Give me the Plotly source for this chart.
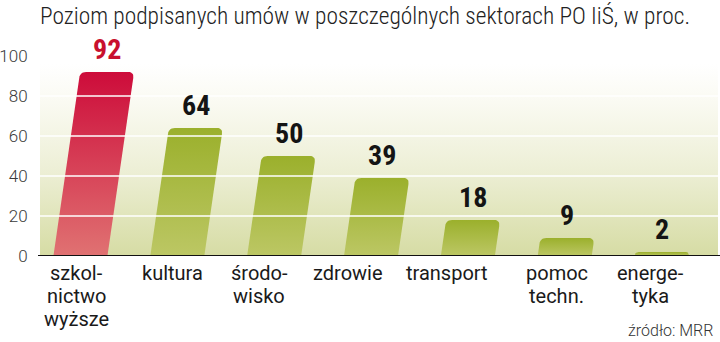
import numpy as np
import plotly.graph_objects as go

# --- data -------------------------------------------------------------
categories = ["szkol-<br>nictwo<br>wyższe", "kultura", "środo-<br>wisko", "zdrowie",
              "transport", "pomoc<br>techn.", "energe-<br>tyka"]
values = [92, 64, 50, 39, 18, 9, 2]
y_ticks = [0, 20, 40, 60, 80, 100]
title_text = "Poziom podpisanych umów w poszczególnych sektorach PO IiŚ, w proc."
source_text = "źródło: MRR"

# --- layout constants -------------------------------------------------
W, H = 720, 342
M_L, M_R, M_T, M_B = 40, 2, 36, 86
X_RANGE = (-0.5, len(values) - 0.5)
Y_RANGE = (0, 110)
PX_X = (W - M_L - M_R) / (X_RANGE[1] - X_RANGE[0])
PX_Y = (H - M_T - M_B) / (Y_RANGE[1] - Y_RANGE[0])

BAR_W = 54        # bar width in px
SLANT = 0.145     # horizontal lean per px of height
BASE_OFF = -8     # px offset of the bar foot from the category centre
RADIUS = 6        # rounding of the top corners, px
LABEL_NUDGE = [-12, -13, -23, -31, -29, -16, -19]  # px shift of category labels
LINE_STEP = 23    # px between lines of a category label

RED = [[0, "#E07272"], [1, "#CD0C3A"]]
GREEN = [[0, "#BCC764"], [1, "#9BB02C"]]
BG = [[0, "#D6DCA4"], [0.45, "#EDEFD6"], [0.8, "#FAFAF2"], [1, "#FFFFFF"]]

FONT_COND = "Roboto Condensed, DejaVu Sans Condensed, sans-serif"
FONT_TEXT = "Roboto, Liberation Sans, sans-serif"


def to_data(px, py):
    return px / PX_X + X_RANGE[0], py / PX_Y


def bezier(p0, c, p1, n=8):
    t = np.linspace(0, 1, n)
    return [((1 - s) ** 2 * p0[0] + 2 * (1 - s) * s * c[0] + s ** 2 * p1[0],
             (1 - s) ** 2 * p0[1] + 2 * (1 - s) * s * c[1] + s ** 2 * p1[1]) for s in t]


def toward(a, b, d):
    v = np.array(b) - np.array(a)
    L = np.hypot(*v)
    return tuple(np.array(a) + v / L * d)


def bar_outline(i, v):
    """Slanted bar with rounded top corners, returned in data coordinates."""
    cx = (i - X_RANGE[0]) * PX_X + BASE_OFF
    h = v * PX_Y
    hw = BAR_W / 2
    bl, br = (cx - hw, 0.0), (cx + hw, 0.0)
    tr, tl = (cx + hw + SLANT * h, h), (cx - hw + SLANT * h, h)
    r = min(RADIUS, h * 0.9)
    pts = [bl, br]
    pts += bezier(toward(tr, br, r), tr, toward(tr, tl, r))
    pts += bezier(toward(tl, tr, r), tl, toward(tl, bl, r))
    pts.append(bl)
    xs, ys = zip(*[to_data(px, py) for px, py in pts])
    top_x, _ = to_data(cx + SLANT * h, h)
    return list(xs), list(ys), top_x


fig = go.Figure()

# plot background with a soft vertical gradient
fig.add_trace(go.Scatter(
    x=[X_RANGE[0], X_RANGE[1], X_RANGE[1], X_RANGE[0], X_RANGE[0]],
    y=[0, 0, 96, 96, 0], mode="lines", line=dict(width=0),
    fill="toself", fillgradient=dict(type="vertical", colorscale=BG),
    hoverinfo="skip", showlegend=False))

annotations = []
for i, (cat, v) in enumerate(zip(categories, values)):
    xs, ys, top_x = bar_outline(i, v)
    fig.add_trace(go.Scatter(
        x=xs, y=ys, mode="lines", line=dict(width=0), fill="toself",
        fillgradient=dict(type="vertical", colorscale=RED if i == 0 else GREEN),
        hoverinfo="skip", showlegend=False))
    annotations.append(dict(
        x=top_x, y=v, xref="x", yref="y", text=str(v), showarrow=False,
        yanchor="bottom", yshift=4,
        font=dict(family=FONT_COND, size=28, weight=700,
                  color="#C8102E" if i == 0 else "#141414")))
    for k, line in enumerate(cat.split("<br>")):
        annotations.append(dict(
            x=i, y=0, xref="x", yref="y", text=line, showarrow=False,
            yanchor="top", yshift=-3 - k * LINE_STEP, xshift=LABEL_NUDGE[i],
            font=dict(family=FONT_TEXT, size=20, color="#1a1a1a")))

annotations.append(dict(
    x=(715 - M_L) / (W - M_L - M_R), y=(H - M_B - 330) / (H - M_T - M_B),
    xref="paper", yref="paper", xanchor="right", yanchor="middle",
    text=source_text, showarrow=False,
    font=dict(family=FONT_TEXT, size=16, weight=300, color="#333333")))

shapes = [dict(type="line", xref="x", yref="y", x0=X_RANGE[0], x1=X_RANGE[1], y0=t, y1=t,
               line=dict(color="white", width=1.7), layer="above")
          for t in y_ticks[1:-1]]
shapes.append(dict(type="line", xref="paper", yref="y", x0=-2 / (W - M_L - M_R), x1=1.003,
                   y0=0, y1=0, line=dict(color="#111111", width=2), layer="above"))

fig.update_layout(
    width=W, height=H, margin=dict(l=M_L, r=M_R, t=M_T, b=M_B),
    paper_bgcolor="white", plot_bgcolor="white",
    title=dict(text=title_text, x=365 / W, xanchor="center", y=1 - 16 / H, yanchor="middle",
               font=dict(family=FONT_COND, size=23.4, weight=300, color="#222222")),
    xaxis=dict(range=list(X_RANGE), showgrid=False, zeroline=False, showticklabels=False,
               fixedrange=True, automargin=False),
    yaxis=dict(range=list(Y_RANGE), tickvals=y_ticks, showgrid=False, zeroline=False,
               ticks="outside", ticklen=8, tickcolor="rgba(0,0,0,0)", automargin=False,
               tickfont=dict(family=FONT_TEXT, size=17, weight=300, color="#3a3a3a"),
               fixedrange=True),
    shapes=shapes, annotations=annotations, showlegend=False,
)

fig.write_html("out.html")
